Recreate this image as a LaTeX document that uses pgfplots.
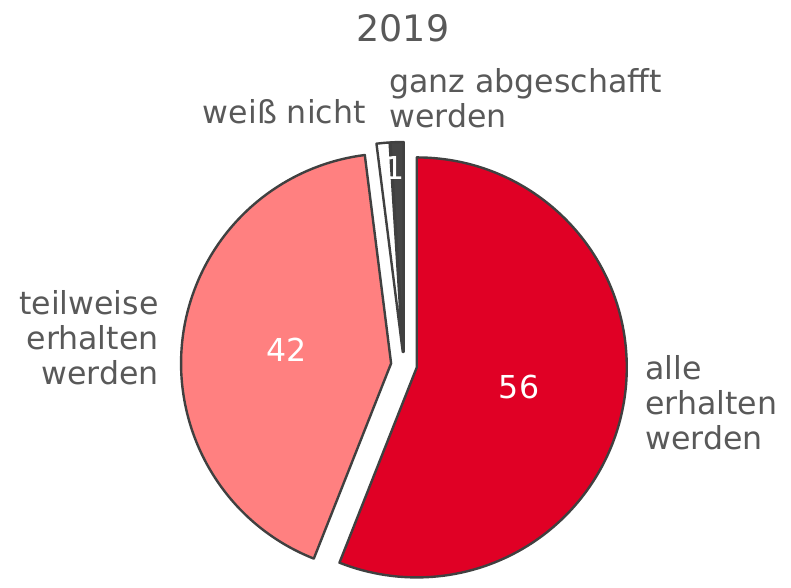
\documentclass[border=0pt]{standalone}
\usepackage{pgfplots}
\pgfplotsset{compat=1.18}
\usepackage{fontspec}
\setmainfont{DejaVu Sans}
\definecolor{pieRed}{HTML}{E00025}
\definecolor{pieRose}{HTML}{FF8080}
\definecolor{pieDark}{HTML}{464646}
\definecolor{edgeGray}{HTML}{404040}
\definecolor{txtGray}{HTML}{595959}
\begin{document}
\begin{tikzpicture}
\begin{axis}[
    hide axis, scale only axis,
    x=0.5pt, y=0.5pt,
    xmin=0, xmax=791, ymin=0, ymax=579,
    clip=false
]
\pgfplotsextra{%
  \path (axis cs:0,0) rectangle (axis cs:791,579);
  % slices clockwise from 12 o'clock: alle, teilweise, weiss nicht, ganz abgeschafft
  \xdef\angA{90}
  \foreach \v/\col in {56/pieRed,42/pieRose,1/white,1/pieDark}{
    \pgfmathsetmacro\angB{\angA-3.6*\v}
    \pgfmathsetmacro\angM{(\angA+\angB)/2}
    \pgfmathsetmacro\px{404+13*cos(\angM)}
    \pgfmathsetmacro\py{214+13*sin(\angM)}
    \filldraw[fill=\col, draw=edgeGray, line width=1.2pt, line join=round]
      (axis cs:\px,\py) -- ++(\angA:105pt)
      arc[start angle=\angA, end angle=\angB, radius=105pt] -- cycle;
    \xdef\angA{\angB}
  }
  \begingroup
  \fontsize{15.8}{17.5}\selectfont
  \node[white] at (axis cs:519,192) {56};
  \node[white] at (axis cs:287,229) {42};
  \node[white] at (axis cs:395,411) {1};
  \node[txtGray, anchor=east, inner sep=0pt] at (axis cs:366,467) {weiß nicht};
  \node[txtGray, anchor=west, align=left, inner sep=0pt] at (axis cs:389,481) {ganz abgeschafft\\werden};
  \node[txtGray, anchor=east, align=right, inner sep=0pt] at (axis cs:159,241) {teilweise\\erhalten\\werden};
  \node[txtGray, anchor=west, align=left, inner sep=0pt] at (axis cs:645,176) {alle\\erhalten\\werden};
  \endgroup
  \node[txtGray, font=\fontsize{18.2}{20}\selectfont] at (axis cs:403,551) {2019};
}
\end{axis}
\end{tikzpicture}
\end{document}
